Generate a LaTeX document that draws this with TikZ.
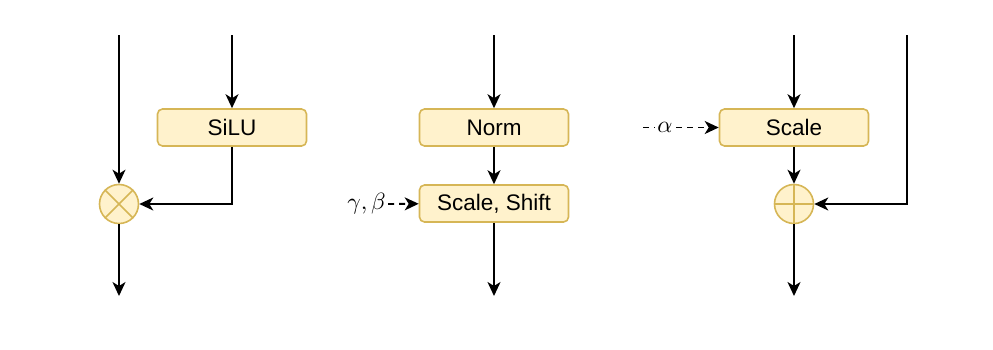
\documentclass[tikz,border=0pt]{standalone}
\usepackage{fontspec}
\setmainfont{Liberation Sans}
\usetikzlibrary{arrows.meta}
\definecolor{boxfill}{HTML}{FFF2CC}
\definecolor{boxdraw}{HTML}{D6B656}
\newcommand{\bigmath}[1]{\scalebox{2.35}{$#1$}}
\begin{document}
\begin{tikzpicture}[x=1pt,y=-1pt,
  box/.style={draw=boxdraw, fill=boxfill, line width=1.6pt, rounded corners=5pt, minimum width=149pt, minimum height=37pt, inner sep=0pt, font=\fontsize{22.5}{26}\selectfont},
  op/.style={circle, draw=boxdraw, fill=boxfill, line width=1.6pt, minimum size=39pt, inner sep=0pt},
  opline/.style={draw=boxdraw, line width=1.6pt},
  conn/.style={line width=1.8pt, -{Stealth[length=14pt,width=13pt,inset=4pt]}},
  dconn/.style={conn, dash pattern=on 6pt off 5pt},
  lbl/.style={inner sep=2pt}]
\useasboundingbox (0,0) rectangle (993,349);
% left
\node[op] (mul) at (119,204) {};
\draw[opline] (mul.north west) -- (mul.south east) (mul.north east) -- (mul.south west);
\node[box] (silu) at (232,127.5) {SiLU};
\coordinate (in1) at (119,35);
\coordinate (in2) at (232,35);
\coordinate (out1) at (119,296);
\draw[conn] (in1) -- (mul);
\draw[conn] (in2) -- (silu);
\draw[conn] (silu.south) |- (mul.east);
\draw[conn] (mul) -- (out1);
% middle
\node[box] (norm) at (494,127.5) {Norm};
\node[box] (ss) at (494,203.5) {Scale, Shift};
\coordinate (in3) at (494,35);
\coordinate (out2) at (494,296);
\node[lbl, anchor=east] (gb) at (388,204) {\bigmath{\gamma, \beta}};
\draw[conn] (in3) -- (norm);
\draw[conn] (norm) -- (ss);
\draw[conn] (ss) -- (out2);
\draw[dconn] (gb) -- (ss);
% right
\node[box] (scale) at (794,127.5) {Scale};
\node[op] (add) at (794,204) {};
\draw[opline] (add.north) -- (add.south) (add.west) -- (add.east);
\coordinate (in5) at (794,35);
\coordinate (in6) at (907,35);
\coordinate (out3) at (794,296);
\coordinate (as) at (643,127.5);
\draw[conn] (in5) -- (scale);
\draw[conn] (scale) -- (add);
\draw[conn] (add) -- (out3);
\draw[conn] (in6) |- (add.east);
\draw[dconn] (as) -- (scale) node[pos=0.29, fill=white, lbl] (al) {\bigmath{\alpha}};
\end{tikzpicture}
\end{document}
